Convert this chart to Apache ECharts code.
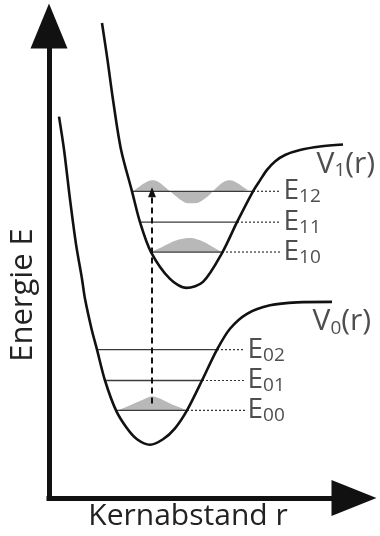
<!DOCTYPE html>
<html>
<head>
<meta charset="utf-8">
<script src="https://cdn.jsdelivr.net/npm/echarts@6/dist/echarts.min.js"></script>
<style>
  html, body { margin: 0; padding: 0; background: #fff; }
  #chart { width: 380px; height: 536px; }
</style>
</head>
<body>
<div id="chart"></div>
<script>
// Potential energy curves, sampled as [r, E] in arbitrary units
const groundPotential = [
  [1.0, 38.3], [1.5, 35.0], [2.1, 30.0], [2.7, 25.5], [3.3, 22.0], [3.6, 20.0],
  [4.25, 17.0], [4.8, 14.9], [5.6, 11.8], [6.7, 8.8], [7.8, 7.0], [8.8, 5.9],
  [10.1, 5.35], [11.4, 5.9], [12.6, 7.0], [13.8, 8.8], [15.3, 11.8], [16.8, 14.9],
  [18.1, 17.0], [19.8, 18.5], [22.1, 19.35], [24.8, 19.65], [28.3, 19.7]
];
const excitedPotential = [
  [5.3, 47.7], [5.85, 44.0], [6.4, 40.0], [7.2, 35.0], [8.3, 30.8], [9.1, 27.7],
  [10.2, 24.7], [12.1, 22.0], [13.75, 21.1], [15.4, 21.7], [17.3, 24.6], [18.8, 27.7],
  [20.4, 30.8], [21.1, 31.9], [21.8, 32.95], [22.6, 33.8], [23.6, 34.45], [25.1, 34.95],
  [27.1, 35.3], [29.4, 35.5]
];

// Vibrational levels: energy and the two turning points on the curve
const groundLevels = [8.8, 11.8, 14.9];
const groundLevelLeft = [6.7, 5.6, 4.8];
const groundLevelRight = [13.8, 15.3, 16.8];
const groundLevelNames = ['00', '01', '02'];

const excitedLevels = [24.7, 27.7, 30.8];
const excitedLevelLeft = [10.2, 9.1, 8.3];
const excitedLevelRight = [17.3, 18.8, 20.4];
const excitedLevelNames = ['10', '11', '12'];

// Vibrational wavefunctions: [r, amplitude relative to their level]
const psi00 = [
  [6.8, 0], [7.6, 0.3], [8.4, 0.65], [9.2, 1.0], [9.9, 1.3], [10.3, 1.4],
  [10.8, 1.3], [11.6, 0.95], [12.3, 0.6], [13.1, 0.3], [13.8, 0]
];
const psi10 = [
  [10.4, 0.1], [11.1, 0.4], [11.9, 0.8], [12.7, 1.15], [13.5, 1.35], [14.1, 1.4],
  [14.7, 1.3], [15.5, 1.0], [16.3, 0.55], [16.9, 0.2], [17.3, 0]
];
const psi12 = [
  [8.4, 0], [9.1, 0.5], [9.7, 0.9], [10.3, 1.1], [10.9, 0.95], [11.5, 0.5], [12.1, 0],
  [12.7, -0.5], [13.3, -0.95], [13.9, -1.2], [14.4, -1.2], [14.9, -1.15], [15.5, -0.8],
  [16.0, -0.4], [16.4, 0], [16.9, 0.5], [17.5, 0.95], [18.1, 1.1], [18.7, 0.9],
  [19.3, 0.5], [19.9, 0.1]
];

// Vertical (Franck-Condon) transition
const transitionR = 10.3;
const transitionFrom = 9.5;
const transitionTo = 30.7;

// Where the dotted guides end and the level / curve names start
const groundGuideEnd = 19.6, groundNameR = 19.8;
const excitedGuideEnd = 23.2, excitedNameR = 23.4;
const curveNames = [
  { sub: '1', at: [26.7, 33.5] },
  { sub: '0', at: [26.3, 17.7] }
];

const FONT = '"Open Sans", "Noto Sans", sans-serif';
const INK = '#111';
const TEXT = '#222';
const FILL = '#b8b8b8';

const series = [];

// shaded wavefunctions, filled against their own level
function addPsi(points, level) {
  series.push({
    type: 'line',
    data: points.map(p => [p[0], level + p[1]]),
    smooth: 0.4,
    showSymbol: false,
    silent: true,
    lineStyle: { width: 0 },
    areaStyle: { color: FILL, opacity: 1, origin: level },
    z: 1
  });
}
addPsi(psi00, groundLevels[0]);
addPsi(psi10, excitedLevels[0]);
addPsi(psi12, excitedLevels[2]);

// level lines (solid inside the well, dotted out to the name)
function addLevels(levels, lefts, rights, guideEnd) {
  levels.forEach((e, i) => {
    series.push({
      type: 'line',
      data: [[lefts[i], e], [rights[i], e]],
      showSymbol: false, silent: true,
      lineStyle: { color: '#3a3a3a', width: 1.3 },
      z: 2
    });
    series.push({
      type: 'line',
      data: [[rights[i], e], [guideEnd, e]],
      showSymbol: false, silent: true,
      lineStyle: { color: '#333', width: 1.2, type: [2, 2] },
      z: 2
    });
  });
}
addLevels(groundLevels, groundLevelLeft, groundLevelRight, groundGuideEnd);
addLevels(excitedLevels, excitedLevelLeft, excitedLevelRight, excitedGuideEnd);

// potential curves
[groundPotential, excitedPotential].forEach((curve, k) => {
  series.push({
    type: 'line',
    data: curve,
    smooth: 0.3,
    showSymbol: false,
    silent: true,
    clip: false,
    lineStyle: { color: INK, width: 2.6 },
    z: 3,
    markLine: k === 0 ? {
      silent: true,
      symbol: ['none', 'triangle'],
      symbolSize: [8, 10],
      label: { show: false },
      lineStyle: { color: INK, width: 2, type: [6, 4] },
      data: [[{ coord: [transitionR, transitionFrom] }, { coord: [transitionR, transitionTo] }]]
    } : undefined
  });
});

// level names E_vv
const levelNameLabel = {
  show: true,
  position: 'right',
  distance: 0,
  color: TEXT,
  fontFamily: FONT,
  fontSize: 28,
  lineHeight: 30,
  formatter: p => 'E{s|' + p.data[2] + '}',
  rich: { s: { fontFamily: FONT, fontSize: 19, lineHeight: 21, verticalAlign: 'bottom', color: TEXT } }
};
series.push({
  type: 'scatter',
  symbolSize: 1,
  itemStyle: { color: 'rgba(0,0,0,0)' },
  silent: true,
  data: groundLevels.map((e, i) => [groundNameR, e, groundLevelNames[i]])
    .concat(excitedLevels.map((e, i) => [excitedNameR, e, excitedLevelNames[i]])),
  label: levelNameLabel,
  z: 4
});

// curve names V_n(r)
series.push({
  type: 'scatter',
  symbolSize: 1,
  itemStyle: { color: 'rgba(0,0,0,0)' },
  silent: true,
  data: curveNames.map(c => [c.at[0], c.at[1], c.sub]),
  label: Object.assign({}, levelNameLabel, {
    fontSize: 30,
    lineHeight: 32,
    formatter: p => 'V{s|' + p.data[2] + '}(r)',
    rich: { s: { fontFamily: FONT, fontSize: 19, lineHeight: 22, verticalAlign: 'bottom', color: TEXT } }
  }),
  z: 4
});

const axisLine = (size) => ({
  show: true,
  symbol: ['none', 'triangle'],
  symbolSize: size,
  lineStyle: { color: INK, width: 5, cap: 'square' }
});

const chart = echarts.init(document.getElementById('chart'), null, { renderer: 'canvas' });
chart.setOption({
  animation: false,
  backgroundColor: '#fff',
  grid: { left: 49, right: 26, top: 26, bottom: 36 },
  xAxis: {
    type: 'value', min: 0, max: 30.5,
    axisLine: axisLine([36, 45]),
    axisTick: { show: false }, axisLabel: { show: false }, splitLine: { show: false },
    name: 'Kernabstand r', nameLocation: 'middle', nameGap: 3,
    nameTextStyle: { fontFamily: FONT, fontSize: 30, color: TEXT, padding: [0, 27, 0, 0] }
  },
  yAxis: {
    type: 'value', min: 0, max: 47.4,
    axisLine: axisLine([37, 45]),
    axisTick: { show: false }, axisLabel: { show: false }, splitLine: { show: false },
    name: 'Energie E', nameLocation: 'middle', nameRotate: 90, nameGap: 10,
    nameTextStyle: { fontFamily: FONT, fontSize: 31, color: TEXT, padding: [0, 66, 0, 0] }
  },
  series: series
});
</script>
</body>
</html>
